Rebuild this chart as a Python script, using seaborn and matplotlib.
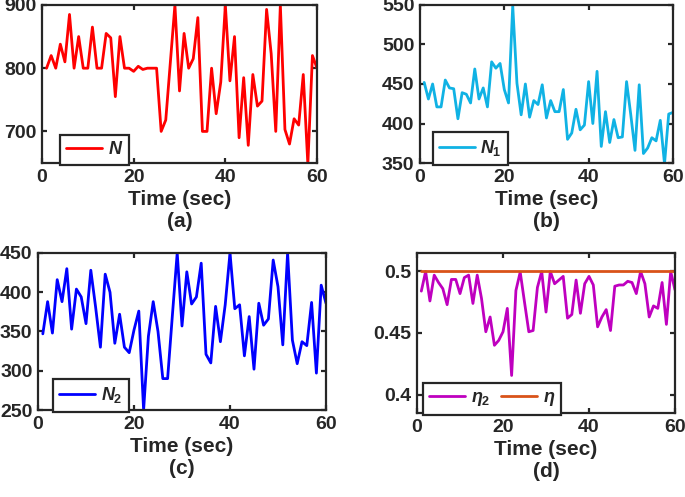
import numpy as np
import pandas as pd
import seaborn as sns
import matplotlib.pyplot as plt

# time axis (seconds)
t = list(range(1, 61))

n_total = [800, 820, 800, 838, 810, 885, 800, 850, 800, 800,
           865, 800, 800, 855, 848, 755, 850, 800, 800, 795,
           803, 798, 800, 800, 800, 700, 718, 809, 900, 764,
           855, 800, 815, 880, 700, 700, 800, 728, 778, 900,
           780, 850, 690, 785, 678, 790, 740, 748, 893, 823,
           700, 900, 703, 680, 720, 710, 790, 648, 820, 800]

n_1 = [452, 431, 450, 421, 421, 455, 445, 444, 406, 439,
       437, 426, 469, 431, 445, 421, 478, 470, 476, 443,
       426, 549, 451, 411, 450, 408, 429, 424, 449, 407,
       429, 415, 415, 443, 380, 388, 418, 392, 398, 453,
       400, 466, 371, 415, 376, 405, 382, 383, 453, 411,
       366, 449, 362, 369, 382, 378, 404, 349, 412, 414]

n_2 = [347, 388, 348, 416, 388, 430, 353, 404, 394, 360,
       428, 381, 330, 423, 400, 335, 372, 330, 323, 352,
       376, 250, 344, 388, 350, 290, 290, 371, 450, 357,
       426, 385, 394, 437, 321, 310, 382, 337, 384, 450,
       379, 384, 319, 369, 302, 386, 358, 366, 441, 407,
       333, 450, 339, 309, 337, 332, 387, 297, 409, 386]

eta_2 = [0.484, 0.500, 0.476, 0.497, 0.491, 0.486, 0.473, 0.4935, 0.4935, 0.482,
         0.495, 0.497, 0.474, 0.497, 0.478, 0.451, 0.463, 0.440, 0.444, 0.451,
         0.470, 0.4155, 0.4845, 0.4995, 0.475, 0.451, 0.452, 0.487, 0.500, 0.467,
         0.500, 0.490, 0.493, 0.496, 0.462, 0.465, 0.493, 0.466, 0.490, 0.496,
         0.489, 0.455, 0.463, 0.469, 0.452, 0.488, 0.489, 0.489, 0.492, 0.491,
         0.482, 0.500, 0.490, 0.463, 0.472, 0.470, 0.491, 0.457, 0.500, 0.485]

eta = [0.5] * 60

sns.set_theme(style="ticks")
plt.rcParams["font.family"] = ["Liberation Sans", "DejaVu Sans"]
plt.rcParams["font.weight"] = "bold"
plt.rcParams["mathtext.fontset"] = "custom"
plt.rcParams["mathtext.it"] = "Liberation Sans:italic:bold"
plt.rcParams["mathtext.rm"] = "Liberation Sans:bold"
plt.rcParams["mathtext.bf"] = "Liberation Sans:bold"

ink = "#262626"

fig = plt.figure(figsize=(6.85, 4.97), dpi=100)
axes = {
    "a": fig.add_axes([0.0613, 0.672, 0.4015, 0.318]),
    "b": fig.add_axes([0.6131, 0.672, 0.3693, 0.318]),
    "c": fig.add_axes([0.0555, 0.175, 0.4204, 0.316]),
    "d": fig.add_axes([0.6088, 0.169, 0.3766, 0.322]),
}

panels = [
    ("a", [(n_total, r"$N$", "#FF0000")], (650, 900), [700, 800, 900], None, 0.065),
    ("b", [(n_1, r"$N_1$", "#10B2E4")], (350, 550), [350, 400, 450, 500, 550], None, 0.05),
    ("c", [(n_2, r"$N_2$", "#0000FF")], (250, 450), [250, 300, 350, 400, 450], None, 0.052),
    ("d", [(eta_2, r"$\eta_2$", "#BF00BF"), (eta, r"$\eta$", "#D95319")],
     (0.385, 0.515), [0.4, 0.45, 0.5], ["0.4", "0.45", "0.5"], 0.023),
]

for key, series, ylim, yticks, ylabels, leg_x in panels:
    ax = axes[key]
    for vals, lab, col in series:
        df = pd.DataFrame({"t": t, "v": vals})
        sns.lineplot(data=df, x="t", y="v", ax=ax, color=col, linewidth=2.0, label=lab)
    ax.set_xlim(0, 60)
    ax.set_ylim(*ylim)
    ax.set_xticks([0, 20, 40, 60])
    ax.set_yticks(yticks)
    if ylabels:
        ax.set_yticklabels(ylabels)
    ax.set_ylabel("")
    ax.set_xlabel(f"Time (sec)\n({key})", fontsize=15, fontweight="bold",
                  color=ink, linespacing=1.2, labelpad=3)
    for sp in ax.spines.values():
        sp.set_visible(True)
        sp.set_color(ink)
        sp.set_linewidth(1.6)
    ax.tick_params(direction="in", length=3.5, width=1.6, color=ink,
                   labelsize=14, labelcolor=ink, top=True, right=True, pad=4)
    for lbl in ax.get_xticklabels() + ax.get_yticklabels():
        lbl.set_fontweight("bold")
    leg = ax.legend(loc="lower left", bbox_to_anchor=(leg_x, -0.01),
                    ncol=len(series), fontsize=13, frameon=True, fancybox=False,
                    framealpha=1.0, borderaxespad=0, handlelength=2.0,
                    columnspacing=0.6, handletextpad=0.3, borderpad=0.35)
    leg.get_frame().set_edgecolor(ink)
    leg.get_frame().set_linewidth(1.6)

fig.savefig("out.png", dpi=100)
